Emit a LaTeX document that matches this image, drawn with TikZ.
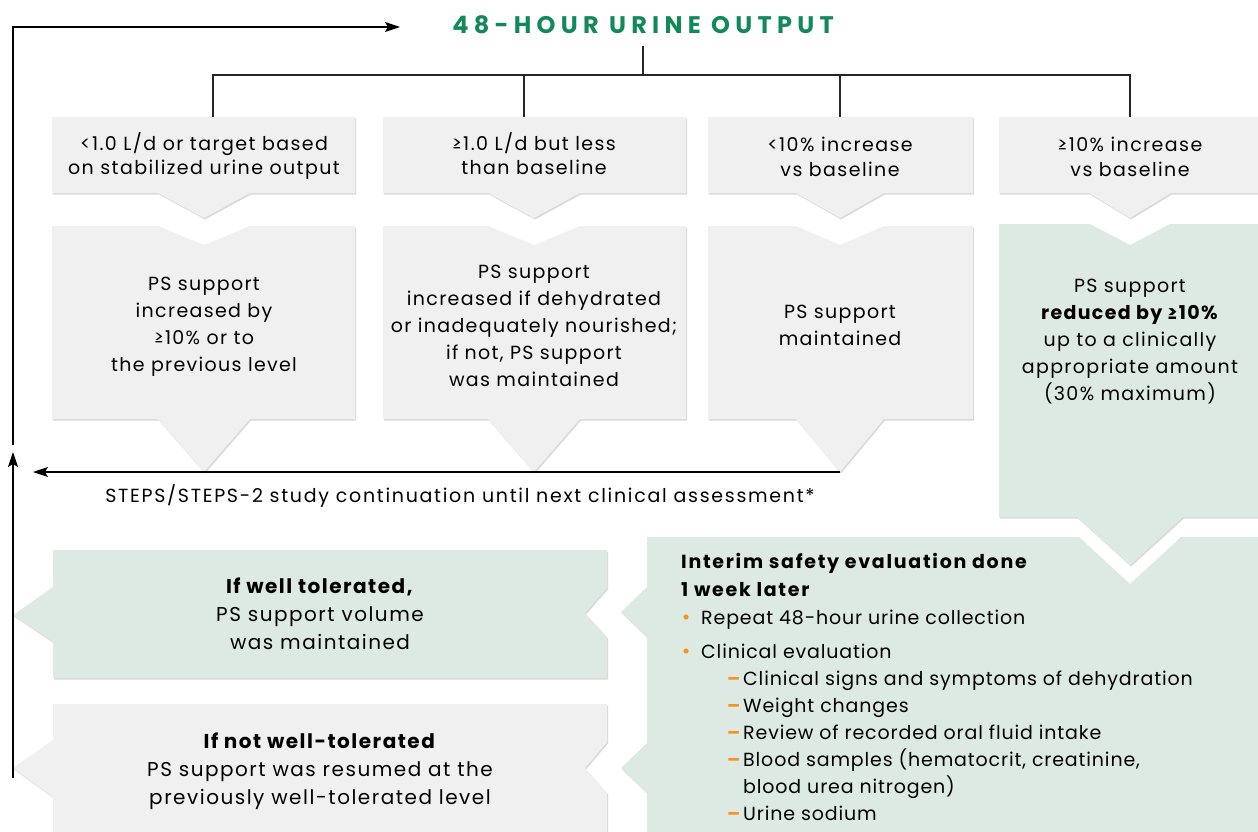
\documentclass[tikz,border=0pt]{standalone}
\usepackage{fontspec}
\setmainfont{Poppins}
\newfontfamily\titlefont{Poppins}[LetterSpace=22]
\usepackage{xcolor}
\usetikzlibrary{arrows.meta,positioning,shadows}

\definecolor{boxgrey}{HTML}{F0F0F0}
\definecolor{boxgreen}{HTML}{DDEAE3}
\definecolor{titlegreen}{HTML}{12895A}
\definecolor{bulorange}{HTML}{F7941D}

\newcommand{\sz}[3]{\fontsize{#1}{#2}\selectfont\addfontfeature{LetterSpace=#3}}
\newcommand{\bul}{\hspace*{20pt}}
\newcommand{\dsh}{\hspace*{46pt}\makebox[16pt][l]{\textcolor{bulorange}{\textbf{--}}}}

\begin{document}
\begin{tikzpicture}[x=1pt, y=-1pt,
  greybox/.style={fill=boxgrey, drop shadow={shadow xshift=1pt, shadow yshift=-1.5pt, opacity=.15, fill=black}},
  greenbox/.style={fill=boxgreen, drop shadow={shadow xshift=1pt, shadow yshift=-1.5pt, opacity=.15, fill=black}},
  txt/.style={align=center, inner sep=0pt, font=\sz{19}{27}{7}},
  ctxt/.style={txt, font=\sz{19}{25}{7.5}},
  btxt/.style={txt, font=\sz{20}{28}{7.5}},
  head/.style={inner sep=0pt, font=\titlefont\bfseries\fontsize{24}{26}\selectfont, text=titlegreen},
  tree/.style={line width=1.6pt, black!85},
  arr/.style={-{Stealth[length=15pt, width=10pt, inset=3pt]}, line width=1.1pt}
]
\useasboundingbox (0,0) rectangle (1258,832);

% top row: urine output ranges
\foreach \xa/\xb/\xc/\hw in {52/355/204/46, 383/686/534/46, 708/973/840/44, 999/1270/1130/41}
  \fill[greybox] (\xa,117) -- (\xb,117) -- (\xb,193) -- (\xc+\hw,193) -- (\xc,218)
    -- (\xc-\hw,193) -- (\xa,193) -- cycle;

% second row: what happens to PS support
\foreach \xa/\xb/\xc/\hw in {52/355/204/46, 383/686/534/46, 708/973/840/44}
  \fill[greybox] (\xa,226) -- (\xc-\hw,226) -- (\xc,245) -- (\xc+\hw,226) -- (\xb,226)
    -- (\xb,419) -- (\xc+\hw,419) -- (\xc,472) -- (\xc-\hw,419) -- (\xa,419) -- cycle;
\fill[greenbox] (999,224) -- (1090,224) -- (1130,245) -- (1170,224) -- (1270,224)
  -- (1270,517) -- (1183,517) -- (1130,565) -- (1077,517) -- (999,517) -- cycle;

% safety check and the two outcomes
\fill[greenbox] (647,537) -- (1079,537) -- (1130,584) -- (1181,537) -- (1270,537)
  -- (1270,840) -- (647,840) -- (647,793) -- (621,768) -- (647,743)
  -- (647,637) -- (621,612) -- (647,587) -- cycle;
\fill[greenbox] (53,550) -- (607,550) -- (607,588) -- (585,613) -- (607,637)
  -- (607,678) -- (53,678) -- (53,642) -- (13,615) -- (53,587) -- cycle;
\fill[greybox] (53,704) -- (607,704) -- (607,742) -- (585,768) -- (607,793)
  -- (607,840) -- (53,840) -- (53,797) -- (13,768) -- (53,740) -- cycle;

% texts
\node[head] (ttl) at (643,25) {48-HOUR URINE OUTPUT};

\node[ctxt, font=\sz{19}{24}{7.5}] (c1) at (204,156) {<1.0 L/d or target based\\ on stabilized urine output};
\node[ctxt, font=\sz{19}{24}{7.5}] (c2) at (534,154) {≥1.0 L/d but less\\ than baseline};
\node[ctxt] (c3) at (840,157) {<10\% increase\\ vs baseline};
\node[ctxt] (c4) at (1130,157) {≥10\% increase\\ vs baseline};

\node[txt] (a1) at (204,327) {PS support\\ increased by\\ ≥10\% or to\\ the previous level};
\node[txt] (a2) at (534,326) {PS support\\ increased if dehydrated\\ or inadequately nourished;\\ if not, PS support\\ was maintained};
\node[txt] (a3) at (840,325) {PS support\\ maintained};
\node[txt] (a4) at (1130,342) {PS support\\ \textbf{reduced by ≥10\%}\\ up to a clinically\\ appropriate amount\\ (30\% maximum)};

\node[txt, font=\sz{19}{27}{9}] (cnt) at (460,496) {STEPS/STEPS-2 study continuation until next clinical assessment*};

\node[btxt] (ok) at (320,614) {\textbf{If well tolerated,}\\ PS support volume\\ was maintained};
\node[btxt] (nok) at (320,771) {\textbf{If not well-tolerated}\\ PS support was resumed at the\\ previously well-tolerated level};

\node[txt, align=left, anchor=north west, font=\sz{19}{27}{4.5}] (chk) at (681,553) {%
  {\addfontfeature{LetterSpace=9}\textbf{Interim safety evaluation done}}\\[1pt]
  {\addfontfeature{LetterSpace=9}\textbf{1 week later}}\\[1pt]
  \bul Repeat 48-hour urine collection\\[7pt]
  \bul Clinical evaluation\\
  \dsh Clinical signs and symptoms of dehydration\\
  \dsh Weight changes\\
  \dsh Review of recorded oral fluid intake\\
  \dsh Blood samples (hematocrit, creatinine,\\
  \hspace*{62pt}blood urea nitrogen)\\
  \dsh Urine sodium};
\fill[bulorange] (686,617) circle (2.6pt) (686,651) circle (2.6pt);

% connectors
\coordinate (bus) at (643,75);
\coordinate (k1) at (213,117);
\coordinate (k2) at (524,117);
\coordinate (k3) at (840,117);
\coordinate (k4) at (1130,117);
\draw[tree, shorten <=12pt] (ttl.south) -- (bus);
\draw[tree] (k1) |- (bus) -| (k4);
\draw[tree] (k2) -- (k2 |- bus);
\draw[tree] (k3) -- (k3 |- bus);

\coordinate (tip3) at (840,472);
\coordinate (cont) at (33,472);
\draw[arr] (tip3) -- (cont);

\coordinate (back0) at (13,778);
\coordinate (back1) at (13,452);
\coordinate (back2) at (13,445);
\coordinate (back3) at (400,27);
\draw[arr] (back0) -- (back1);
\draw[arr] (back2) |- (back3);
\end{tikzpicture}
\end{document}
